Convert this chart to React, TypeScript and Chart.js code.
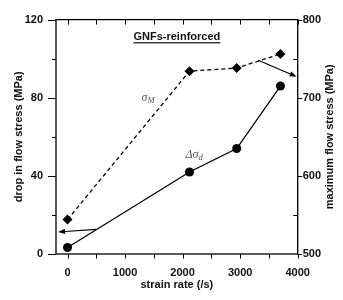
import React, { useEffect, useRef } from "react";
import { Chart, registerables } from "chart.js";
Chart.register(...registerables);

const strainRate = [0, 2120, 2940, 3700];
const dropFlowStress = [3.3, 42, 54, 86];
const maxFlowStress = [544, 734, 738, 756];

const xMajorTicks = [0, 1000, 2000, 3000, 4000];
const xMinorTicks = [500, 1500, 2500, 3500];
const leftMajorTicks = [0, 40, 80, 120];
const leftMinorTicks = [20, 60, 100];
const rightMajorTicks = [500, 600, 700, 800];
const rightMinorTicks = [550, 650, 750];

const xTitle = "strain rate (/s)";
const leftTitle = "drop in flow stress (MPa)";
const rightTitle = "maximum flow stress (MPa)";
const panelLabel = "GNFs-reinforced";

// annotation anchors in data units [x, yLeft]
const panelLabelPos = [1900, 111];
const sigmaMPos = [1400, 80];
const deltaSigmaPos = [2200, 51];
// arrows: [xFrom, yFrom, xTo, yTo] (left arrow in left units, right arrow in right units)
const leftArrow = [500, 12.6, -165, 11.3];
const rightArrow = [3315, 748, 3983, 727];

const FONT = '"Liberation Sans", Arial, sans-serif';
const SERIF = '"Liberation Serif", "Times New Roman", serif';

function drawArrow(ctx: CanvasRenderingContext2D, x1: number, y1: number, x2: number, y2: number) {
  const ang = Math.atan2(y2 - y1, x2 - x1);
  const len = 7;
  const hw = 2.6;
  const bx = x2 - Math.cos(ang) * len;
  const by = y2 - Math.sin(ang) * len;
  ctx.beginPath();
  ctx.moveTo(x1, y1);
  ctx.lineTo(bx, by);
  ctx.stroke();
  ctx.beginPath();
  ctx.moveTo(x2, y2);
  ctx.lineTo(bx - Math.sin(ang) * hw, by + Math.cos(ang) * hw);
  ctx.lineTo(bx + Math.sin(ang) * hw, by - Math.cos(ang) * hw);
  ctx.closePath();
  ctx.fill();
}

const decor = {
  id: "decor",
  afterDatasetsDraw(chart: any) {
    const { ctx, chartArea: a, scales } = chart;
    const sx = scales.x, yl = scales.y, yr = scales.y2;
    ctx.save();
    ctx.strokeStyle = "#000";
    ctx.fillStyle = "#000";
    ctx.lineWidth = 1.3;
    ctx.strokeRect(a.left, a.top, a.right - a.left, a.bottom - a.top);
    ctx.lineWidth = 1;
    ctx.beginPath();
    [...xMajorTicks, ...xMinorTicks].forEach((v) => {
      const px = Math.round(sx.getPixelForValue(v)) + 0.5;
      ctx.moveTo(px, a.bottom);
      ctx.lineTo(px, a.bottom + 4.5);
      ctx.moveTo(px, a.top);
      ctx.lineTo(px, a.top + 5);
    });
    leftMajorTicks.forEach((v) => {
      const py = Math.round(yl.getPixelForValue(v)) + 0.5;
      ctx.moveTo(a.left - 8, py);
      ctx.lineTo(a.left, py);
    });
    leftMinorTicks.forEach((v) => {
      const py = Math.round(yl.getPixelForValue(v)) + 0.5;
      ctx.moveTo(a.left - 4, py);
      ctx.lineTo(a.left, py);
    });
    rightMajorTicks.forEach((v) => {
      const py = Math.round(yr.getPixelForValue(v)) + 0.5;
      ctx.moveTo(a.right, py);
      ctx.lineTo(a.right + 4.5, py);
    });
    rightMinorTicks.forEach((v) => {
      const py = Math.round(yr.getPixelForValue(v)) + 0.5;
      ctx.moveTo(a.right - 4.5, py);
      ctx.lineTo(a.right, py);
    });
    ctx.stroke();

    // arrows
    ctx.lineWidth = 1.1;
    drawArrow(
      ctx,
      sx.getPixelForValue(leftArrow[0]), yl.getPixelForValue(leftArrow[1]),
      sx.getPixelForValue(leftArrow[2]), yl.getPixelForValue(leftArrow[3])
    );
    drawArrow(
      ctx,
      sx.getPixelForValue(rightArrow[0]), yr.getPixelForValue(rightArrow[1]),
      sx.getPixelForValue(rightArrow[2]), yr.getPixelForValue(rightArrow[3])
    );

    // right axis title, reading bottom-to-top
    ctx.save();
    ctx.font = `bold 11px ${FONT}`;
    ctx.fillStyle = "#111";
    ctx.textAlign = "center";
    ctx.textBaseline = "middle";
    ctx.translate(330, (a.top + a.bottom) / 2);
    ctx.rotate(-Math.PI / 2);
    ctx.fillText(rightTitle, 0, 0);
    ctx.restore();

    // panel label
    ctx.font = `bold 11px ${FONT}`;
    ctx.textAlign = "center";
    ctx.textBaseline = "middle";
    const lx = sx.getPixelForValue(panelLabelPos[0]);
    const ly = yl.getPixelForValue(panelLabelPos[1]);
    ctx.fillStyle = "#111";
    ctx.fillText(panelLabel, lx, ly);
    const w = ctx.measureText(panelLabel).width;
    ctx.fillRect(lx - w / 2, ly + 5, w, 1.2);

    // sigma labels
    ctx.fillStyle = "#555";
    ctx.textAlign = "left";
    ctx.textBaseline = "alphabetic";
    const drawSub = (main: string, sub: string, cx: number, cy: number) => {
      ctx.font = `italic 12px ${SERIF}`;
      const mw = ctx.measureText(main).width;
      ctx.font = `italic 8.5px ${SERIF}`;
      const sw = ctx.measureText(sub).width;
      const start = cx - (mw + sw) / 2;
      ctx.font = `italic 12px ${SERIF}`;
      ctx.fillText(main, start, cy + 3.5);
      ctx.font = `italic 8.5px ${SERIF}`;
      ctx.fillText(sub, start + mw, cy + 5.5);
    };
    drawSub("σ", "M", sx.getPixelForValue(sigmaMPos[0]), yl.getPixelForValue(sigmaMPos[1]));
    drawSub("Δσ", "d", sx.getPixelForValue(deltaSigmaPos[0]), yl.getPixelForValue(deltaSigmaPos[1]));
    ctx.restore();
  },
};

export default function App() {
  const ref = useRef<HTMLCanvasElement>(null);
  useEffect(() => {
    if (!ref.current) return;
    const tickFont = { family: FONT, size: 11, weight: "bold" as const };
    const plain = (v: any) => String(v);
    const chart = new Chart(ref.current, {
      type: "line",
      data: {
        datasets: [
          {
            label: "Δσd",
            data: strainRate.map((x, i) => ({ x, y: dropFlowStress[i] })),
            yAxisID: "y",
            borderColor: "#000",
            backgroundColor: "#000",
            borderWidth: 1.3,
            pointStyle: "circle",
            pointRadius: 4.5,
            pointBorderWidth: 0,
            tension: 0,
          },
          {
            label: "σM",
            data: strainRate.map((x, i) => ({ x, y: maxFlowStress[i] })),
            yAxisID: "y2",
            borderColor: "#000",
            backgroundColor: "#000",
            borderWidth: 1.3,
            borderDash: [4, 3],
            pointStyle: "rectRot",
            pointRadius: 5,
            pointBorderWidth: 0,
            tension: 0,
          },
        ],
      },
      options: {
        responsive: false,
        animation: false,
        layout: { padding: { top: 13, left: 0, right: 0, bottom: 0 } },
        plugins: { legend: { display: false }, tooltip: { enabled: false } },
        scales: {
          x: {
            type: "linear",
            position: "bottom",
            min: -200,
            max: 4000,
            afterFit: (s: any) => { s.height = 46; },
            afterBuildTicks: (s: any) => { s.ticks = xMajorTicks.map((v) => ({ value: v })); },
            grid: { display: false, drawTicks: false },
            border: { display: false },
            ticks: { font: tickFont, color: "#111", padding: 12, maxRotation: 0, autoSkip: false, callback: plain },
            title: { display: true, text: xTitle, font: tickFont, color: "#111", padding: { top: 0, bottom: 8 } },
          },
          y: {
            type: "linear",
            position: "left",
            min: 0,
            max: 120,
            afterFit: (s: any) => { s.width = 56; },
            afterBuildTicks: (s: any) => { s.ticks = leftMajorTicks.map((v) => ({ value: v })); },
            grid: { display: false, drawTicks: false },
            border: { display: false },
            ticks: { font: tickFont, color: "#111", padding: 13, callback: plain },
            title: { display: true, text: leftTitle, font: tickFont, color: "#111", padding: { top: 12, bottom: 0 } },
          },
          y2: {
            type: "linear",
            position: "right",
            min: 500,
            max: 800,
            afterFit: (s: any) => { s.width = 45.3; },
            afterBuildTicks: (s: any) => { s.ticks = rightMajorTicks.map((v) => ({ value: v })); },
            grid: { display: false, drawTicks: false },
            border: { display: false },
            ticks: { font: tickFont, color: "#111", padding: 5, callback: plain },
            title: { display: false },
          },
        },
      },
      plugins: [decor],
    });
    return () => chart.destroy();
  }, []);
  return (
    <canvas
      ref={ref}
      width={343}
      height={300}
      style={{ position: "absolute", left: 0, top: 0, display: "block", background: "#fff" }}
    />
  );
}
